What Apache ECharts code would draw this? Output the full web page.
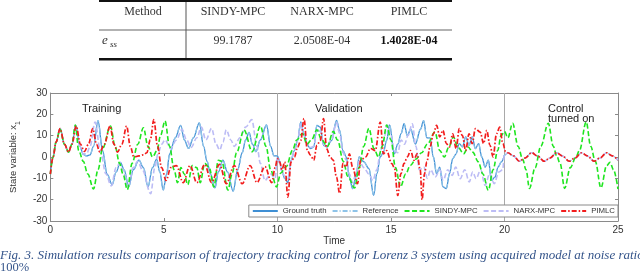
<!DOCTYPE html>
<html><head><meta charset="utf-8">
<script src="https://cdn.jsdelivr.net/npm/echarts@6/dist/echarts.min.js"></script>
<style>html,body{margin:0;padding:0;background:#fff}#c{width:640px;height:277px}</style>
</head><body><div id="c"></div>
<script>
// ---- data: [time, x1] ----
const xTicks = [0,5,10,15,20,25];
const yTicks = [-30,-20,-10,0,10,20,30];
const seriesNames = ['Ground truth','Reference','SINDY-MPC','NARX-MPC','PIMLC'];
const tableHeader = ['Method','SINDY-MPC','NARX-MPC','PIMLC'];
const tableValues = ['99.1787','2.0508E-04','1.4028E-04'];

const groundTruth = [[0,-8],[0.12,0],[0.25,7],[0.43,13.3],[0.62,6],[0.8,2.3],[0.95,6],[1.12,14.8],[1.3,5],[1.45,1.2],[1.6,0.5],[1.75,1],[1.9,5],[2.1,17],[2.3,3],[2.5,-8],[2.72,-13],[2.9,-7],[3.08,-2.5],[3.25,-6],[3.45,-14],[3.65,-6],[3.9,-1.5],[4.1,-5],[4.3,-14],[4.5,-5],[4.68,-1],[4.82,-7],[4.97,-15.5],[5.12,-8],[5.25,1.5],[5.5,9],[5.74,14.8],[5.9,8],[6.09,4],[6.3,9],[6.56,16],[6.75,5],[6.9,-2],[7.05,-8],[7.25,-14.5],[7.4,-7],[7.6,-1.5],[7.8,-7],[8.05,-16],[8.25,-6],[8.45,2],[8.6,8],[8.75,11.5],[8.9,6],[9.05,2.5],[9.25,8],[9.52,15],[9.7,5],[9.85,0.5],[10,0.5],
[10.1,-2],[10.18,-6],[10.32,-10],[10.46,-12],[10.6,-1.5],[10.75,3],[10.89,7.8],[11.03,16.4],[11.17,11],[11.32,5.5],[11.46,3.9],[11.6,4.7],[11.74,14.8],[11.89,14],[12.03,5.5],[12.17,4.7],[12.39,7.8],[12.6,17.2],[12.74,12.5],[12.89,3],[13.03,0],[13.17,-9.4],[13.31,-14.8],[13.46,-9.4],[13.6,0],[13.81,-2.3],[14.03,-5.5],[14.24,-18],[14.38,-7.8],[14.53,0],[14.67,2.3],[14.81,7.8],[14.94,15],[15.15,1.5],[15.3,6],[15.45,11],[15.58,15.6],[15.72,10],[15.87,13],[16.08,6],[16.3,13],[16.44,17],[16.58,9],[16.72,9],[16.87,0],[17.01,-7.8],[17.15,-4.7],[17.29,-14],[17.44,-14.8],[17.58,-7.8],[17.72,-0.8],[17.87,1.5],[18.01,6.3],[18.15,4.7],[18.29,9.4],[18.44,5.5],[18.58,9.4],[18.72,3.9],[18.86,6.3],[19.0,0],[19.15,-4.7],[19.29,-1.5],[19.43,-11],[19.58,-9.4],[19.72,-4.7],[19.86,-2.3],[20.0,0.8]];

const referenceControl = [[20.15,2],[20.4,0.5],[20.65,-2],[20.9,-0.5],[21.2,2],[21.45,0.5],[21.75,-2],[22.0,-0.5],[22.3,2],[22.55,0.5],[22.85,-2],[23.1,-0.5],[23.4,2],[23.65,0.5],[23.95,-2],[24.2,-0.5],[24.5,2],[24.75,0.5],[25,-1.5]];

const sindyMpc = [[0,-8],[0.12,0],[0.25,7],[0.43,13],[0.62,6],[0.8,2.3],[0.95,6],[1.1,15],[1.25,3],[1.45,-2],[1.65,-8],[1.9,-15],[2.1,-6],[2.3,4],[2.65,14.5],[2.85,5],[3.05,-3],[3.2,-8],[3.39,-15.3],[3.6,-3],[3.85,6],[4.1,13.7],[4.3,5],[4.5,0],[4.7,3],[4.85,10],[5.05,16.9],[5.25,5],[5.45,-6],[5.6,-12],[5.75,-5],[5.9,-8],[6.05,-13],[6.25,-4],[6.45,-5],[6.6,-12],[6.8,-3],[7.0,-5],[7.2,-14],[7.4,-1.5],[7.55,-2],[7.82,-15.5],[8.0,-8],[8.2,2],[8.53,12.7],[8.89,2.5],[9.25,14.5],[9.5,5],[9.7,-6],[9.96,-14],
[10.15,-7.5],[10.39,-4.5],[10.67,3.3],[10.85,8],[11.1,11],[11.3,6],[11.5,8],[11.74,12.7],[11.95,8],[12.2,5],[12.46,12],[12.65,8],[12.9,-2],[13.1,-9],[13.4,-14.5],[13.6,-5],[13.8,5],[14.03,13.4],[14.25,4],[14.45,0],[14.62,5],[14.81,15],[15.0,8],[15.2,-5],[15.42,-14],[15.65,-8],[15.85,-4],[16.1,-1],[16.35,2],[16.6,6],[16.94,11.7],[17.15,3],[17.35,0],[17.55,4.7],[17.75,9.4],[17.95,4.7],[18.2,1.5],[18.4,4.7],[18.6,2.3],[18.85,-2.3],[19.05,-8],[19.29,-15.6],[19.5,-6],[19.7,3],[19.85,10],[20.0,12],[20.15,9],[20.36,15.8],[20.6,5],[20.8,-1],[20.95,-6],[21.1,-14.7],[21.35,-5],[21.6,5],[21.93,15.8],[22.15,5],[22.3,0.5],[22.45,-3],[22.65,-14.7],[22.9,-5],[23.15,0],[23.3,3],[23.6,16.4],[23.8,5],[24.0,-2],[24.25,-14.5],[24.5,-4],[24.65,-2.5],[24.8,-6],[25,-15]];

const narxMpc = [[0,-8],[0.12,0],[0.25,7],[0.43,13.3],[0.62,6],[0.8,2.3],[0.95,6],[1.12,14.8],[1.3,5],[1.45,1.5],[1.6,1.5],[1.75,5],[1.97,16.4],[2.2,3],[2.45,-8],[2.68,-13.5],[2.9,-5],[3.05,-3],[3.2,-6],[3.42,-14],[3.65,-5],[3.85,-2],[4.05,-6],[4.42,-17.2],[4.6,-5],[4.74,1.5],[4.9,6],[5.05,8],[5.3,4],[5.55,8],[5.8,13],[6.0,8],[6.2,4.5],[6.45,9],[6.65,14],[6.85,8],[7.1,13.4],[7.3,6],[7.46,3.3],[7.6,7],[7.75,12.7],[7.95,8],[8.1,5],[8.35,9],[8.6,14],[8.87,17.5],[9.1,5],[9.25,-3],[9.45,-11],[9.7,-8],[9.9,-10],[10,0],
[10.1,-3],[10.2,-7],[10.32,-9],[10.46,-10],[10.6,-2],[10.75,3.5],[10.89,8],[11.03,15.5],[11.17,10],[11.32,6],[11.46,4.5],[11.6,5],[11.74,13],[11.89,12],[12.03,6],[12.17,5],[12.39,8.5],[12.6,16],[12.74,11],[12.89,2],[13.03,-1.5],[13.17,-8],[13.31,-12],[13.46,-8],[13.6,-2],[13.81,-5],[14.03,-8],[14.2,-11],[14.38,-6],[14.53,2],[14.67,8],[14.85,15],[15.0,10],[15.15,3],[15.3,2],[15.45,8],[15.6,6],[15.75,10],[15.94,15.6],[16.1,5],[16.25,-6],[16.45,-4.7],[16.6,-10],[16.75,-6],[16.95,-9.4],[17.15,-6],[17.3,-10.9],[17.5,-6],[17.7,-8.6],[17.85,-4.7],[18.05,-10.2],[18.25,-6],[18.45,-11.7],[18.6,-7],[18.75,-10.2],[18.95,-6],[19.15,-13.3],[19.35,-7.8],[19.55,-12.5],[19.75,-7],[19.92,-6],[20.0,1],
[20.15,2],[20.4,0.5],[20.65,-2],[20.9,-0.5],[21.2,2],[21.45,0.5],[21.75,-2],[22.0,-0.5],[22.3,2],[22.55,0.5],[22.85,-2],[23.1,-0.5],[23.4,2],[23.65,0.5],[23.95,-2],[24.2,-0.5],[24.5,2],[24.75,0.5],[25,-1.5]];

const pimlc = [[0,-8],[0.12,0],[0.25,7],[0.43,13.3],[0.62,6],[0.8,2.3],[0.95,6],[1.14,14.5],[1.32,6],[1.5,2.6],[1.68,6],[1.87,13.3],[2.03,6],[2.18,2.3],[2.38,6],[2.63,14.5],[2.8,6],[2.96,2.3],[3.15,6],[3.36,14.5],[3.52,5],[3.68,0],[3.9,0.5],[4.1,1],[4.25,2],[4.4,8],[4.56,17.5],[4.72,5],[4.9,-5],[5.1,-11],[5.3,-5],[5.55,-4],[5.85,-12],[6.15,-4],[6.45,-12],[6.8,-3.5],[7.1,-12],[7.45,-3.5],[7.75,-12.5],[8.1,-4],[8.45,-12.5],[8.8,-4],[9.1,-12],[9.45,-4.5],[9.75,-12],[9.9,-5],[10.0,-0.8],
[10.1,-2.3],[10.2,-6],[10.32,-2.3],[10.46,-18.8],[10.6,-2.3],[10.75,0],[10.89,4.7],[11.03,7.8],[11.17,18],[11.32,3],[11.46,0.8],[11.6,-1.5],[11.74,5.5],[11.89,7.8],[12.03,18],[12.17,3.9],[12.32,0],[12.46,-1.5],[12.6,-9.4],[12.74,-17],[12.89,-3],[13.03,-4.7],[13.17,1.5],[13.31,-4.7],[13.53,-12.5],[13.67,-1.5],[13.88,0],[14.1,4],[14.31,3],[14.53,16.4],[14.67,1.5],[14.81,3],[15.03,-3],[15.15,-5],[15.3,-18],[15.44,-7.8],[15.58,-3],[15.72,0],[15.87,3],[16.01,-1.5],[16.15,1.5],[16.29,-6],[16.37,-20],[16.48,-7.8],[16.58,-2.3],[16.72,4.7],[16.87,10.9],[17.01,14.8],[17.15,9.4],[17.29,12.5],[17.44,6.3],[17.58,4.7],[17.72,10.9],[17.87,3.9],[18.01,13.3],[18.15,10],[18.29,3],[18.44,10.9],[18.58,6.3],[18.72,13.3],[18.93,11.7],[19.08,6.3],[19.22,12.5],[19.36,5.5],[19.5,0],[19.65,10.9],[19.79,14],[19.93,6.3],[20.05,2.5],
[20.15,2],[20.4,0.5],[20.65,-2],[20.9,-0.5],[21.2,2],[21.45,0.5],[21.75,-2],[22.0,-0.5],[22.3,2],[22.55,0.5],[22.85,-2],[23.1,-0.5],[23.4,2],[23.65,0.5],[23.95,-2],[24.2,-0.5],[24.5,2],[24.75,0.5],[25,-1.5]];

const reference = groundTruth.concat(referenceControl);

// ---- chart ----
const chart = echarts.init(document.getElementById('c'), null, {renderer:'canvas'});
const axisCol = '#8a8a8a', lblCol = '#333';
const serif = '"Liberation Serif","Times New Roman",serif';
const sans = '"Liberation Sans",Arial,sans-serif';
function mk(name, data, color, width, dash, z){
  return {name, type:'line', data, xAxisIndex:0, yAxisIndex:0, showSymbol:false, symbol:'none',
    smooth:0.35, smoothMonotone:'x', z,
    lineStyle:{color, width, type:dash}, itemStyle:{color}};
}
const series = [
  mk(seriesNames[0], groundTruth, '#3f8fd4', 1.3, 'solid', 2),
  mk(seriesNames[1], reference, '#8ec3e8', 1.3, [5,2,1,2], 3),
  mk(seriesNames[2], sindyMpc, '#1fe51f', 1.6, [5,2.5], 4),
  mk(seriesNames[3], narxMpc, '#bcbcf5', 1.6, [5,2.5], 3),
  mk(seriesNames[4], pimlc, '#f21c1c', 1.7, [5,2,1.5,2], 5)
];
series[0].markLine = {silent:true, symbol:'none', label:{show:false},
  lineStyle:{color:'#a9a9a9', width:1, type:'solid'}, data:[{xAxis:10},{xAxis:20}], z:1};

const axBase = {min:-30, max:30, interval:10};
chart.setOption({
  animation:false,
  backgroundColor:'#fff',
  grid:{left:34, right:22, top:93, bottom:56, show:false},
  xAxis:[
    {type:'value', min:xTicks[0], max:xTicks[xTicks.length-1], interval:5, position:'bottom',
     name:'Time', nameLocation:'middle', nameGap:15, nameTextStyle:{fontFamily:sans, fontSize:10, color:lblCol},
     axisLine:{show:true, onZero:false, lineStyle:{color:axisCol}}, axisTick:{inside:true, length:3, lineStyle:{color:axisCol}},
     axisLabel:{margin:4, fontFamily:sans, fontSize:10, color:lblCol}, splitLine:{show:false}},
    {type:'value', min:xTicks[0], max:xTicks[xTicks.length-1], interval:5, position:'top',
     axisLine:{show:true, onZero:false, lineStyle:{color:axisCol}}, axisTick:{inside:true, length:3, lineStyle:{color:axisCol}},
     axisLabel:{show:false}, splitLine:{show:false}}
  ],
  yAxis:[
    Object.assign({type:'value', position:'left', min:yTicks[0], max:yTicks[yTicks.length-1],
     name:'State variable: x{s|1}', nameLocation:'middle', nameGap:30, nameRotate:90,
     nameTextStyle:{fontFamily:sans, fontSize:9.5, color:lblCol, rich:{s:{fontFamily:sans, fontSize:7, color:lblCol, verticalAlign:'bottom', padding:[0,0,-4,0]}}},
     axisLine:{show:true, onZero:false, lineStyle:{color:axisCol}}, axisTick:{inside:true, length:3, lineStyle:{color:axisCol}},
     axisLabel:{margin:3, fontFamily:sans, fontSize:10, color:lblCol}, splitLine:{show:false}}, axBase),
    Object.assign({type:'value', position:'right', min:yTicks[0], max:yTicks[yTicks.length-1],
     axisLine:{show:true, onZero:false, lineStyle:{color:axisCol}}, axisTick:{inside:true, length:3, lineStyle:{color:axisCol}},
     axisLabel:{show:false}, splitLine:{show:false}}, axBase)
  ],
  legend:{right:22, top:205, orient:'horizontal', itemWidth:25, itemHeight:6, itemGap:5,
    padding:[2,3], borderColor:'#8a8a8a', borderWidth:1, backgroundColor:'#fff', borderRadius:0,
    itemStyle:{opacity:0},
    textStyle:{fontFamily:sans, fontSize:7.8, color:'#333'}, data:seriesNames, selectedMode:false},
  series,
  graphic:[
    // table
    {type:'rect', shape:{x:99, y:0, width:353, height:2}, style:{fill:'#111'}},
    {type:'rect', shape:{x:99, y:29.5, width:353, height:1}, style:{fill:'#666'}},
    {type:'rect', shape:{x:185.5, y:2, width:1, height:57}, style:{fill:'#555'}},
    {type:'rect', shape:{x:99, y:58, width:353, height:2.5}, style:{fill:'#111'}},
    {type:'text', style:{text:tableHeader[0], x:143, y:12, align:'center', verticalAlign:'middle', font:'12px '+serif, fill:'#333'}},
    {type:'text', style:{text:tableHeader[1], x:233, y:12, align:'center', verticalAlign:'middle', font:'12px '+serif, fill:'#333'}},
    {type:'text', style:{text:tableHeader[2], x:322, y:12, align:'center', verticalAlign:'middle', font:'12px '+serif, fill:'#333'}},
    {type:'text', style:{text:tableHeader[3], x:409, y:12, align:'center', verticalAlign:'middle', font:'12px '+serif, fill:'#333'}},
    {type:'text', style:{text:'e', x:102, y:41, align:'left', verticalAlign:'middle', font:'italic 13px '+serif, fill:'#333'}},
    {type:'text', style:{text:'ss', x:110, y:45, align:'left', verticalAlign:'middle', font:'italic 9px '+serif, fill:'#333'}},
    {type:'text', style:{text:tableValues[0], x:233, y:41, align:'center', verticalAlign:'middle', font:'12px '+serif, fill:'#333'}},
    {type:'text', style:{text:tableValues[1], x:322, y:41, align:'center', verticalAlign:'middle', font:'12px '+serif, fill:'#333'}},
    {type:'text', style:{text:tableValues[2], x:409, y:41, align:'center', verticalAlign:'middle', font:'bold 12px '+serif, fill:'#111'}},
    // annotations
    {type:'text', z:10, style:{text:'Training', x:82, y:109, verticalAlign:'middle', font:'11px '+sans, fill:'#222'}},
    {type:'text', z:10, style:{text:'Validation', x:315, y:109, verticalAlign:'middle', font:'11px '+sans, fill:'#222'}},
    {type:'text', z:10, style:{text:'Control', x:548, y:109, verticalAlign:'middle', font:'11px '+sans, fill:'#222'}},
    {type:'text', z:10, style:{text:'turned on', x:548, y:119, verticalAlign:'middle', font:'11px '+sans, fill:'#222'}},
    // caption
    {type:'text', style:{text:'Fig. 3. Simulation results comparison of trajectory tracking control for Lorenz 3 system using acquired model at noise ratio', x:0, y:256, verticalAlign:'middle', font:'italic 13px '+serif, fill:'#34548a'}},
    {type:'text', style:{text:'100%', x:0, y:268, verticalAlign:'middle', font:'12.5px '+serif, fill:'#34548a'}}
  ]
});
</script></body></html>
